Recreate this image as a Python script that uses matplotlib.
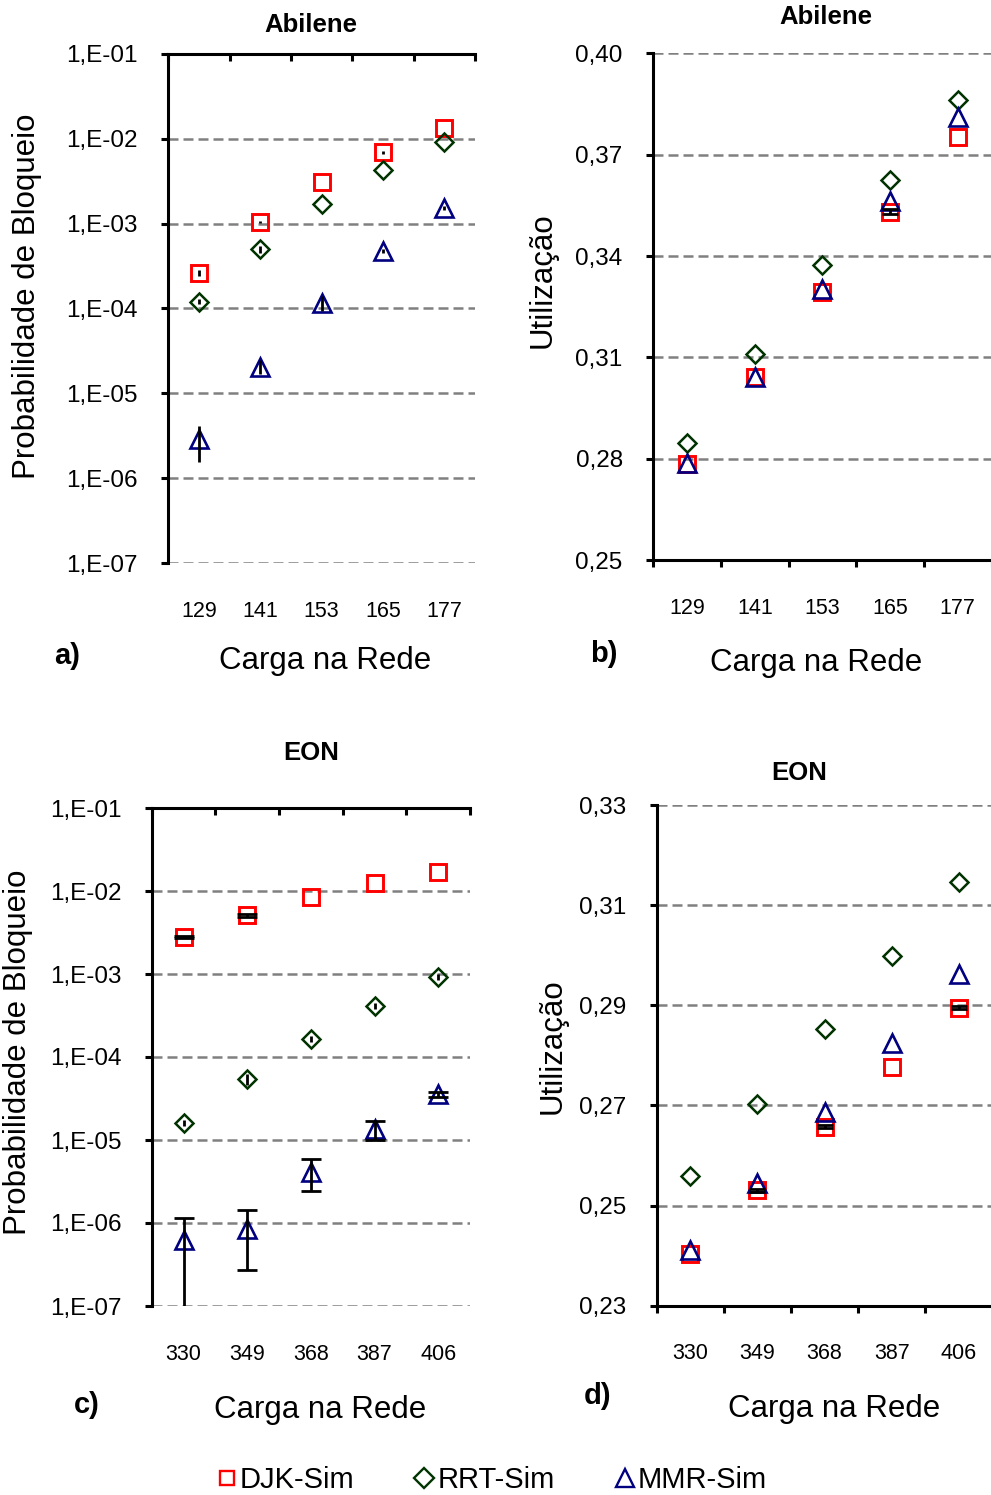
import matplotlib
matplotlib.use('Agg')
import matplotlib.pyplot as plt
from matplotlib.lines import Line2D
from matplotlib.ticker import NullLocator
import numpy as np

plt.rcParams['font.family'] = ['Liberation Sans', 'DejaVu Sans']

# ---------------- data ----------------
loads_abilene = ['129', '141', '153', '165', '177']
loads_eon = ['330', '349', '368', '387', '406']
series_names = ['DJK-Sim', 'RRT-Sim', 'MMR-Sim']

log_ticks = [1e-7, 1e-6, 1e-5, 1e-4, 1e-3, 1e-2, 1e-1]
log_tick_labels = ['1,E-07', '1,E-06', '1,E-05', '1,E-04', '1,E-03', '1,E-02', '1,E-01']
util_ticks_abilene = [0.25, 0.28, 0.31, 0.34, 0.37, 0.40]
util_labels_abilene = ['0,25', '0,28', '0,31', '0,34', '0,37', '0,40']
util_ticks_eon = [0.23, 0.25, 0.27, 0.29, 0.31, 0.33]
util_labels_eon = ['0,23', '0,25', '0,27', '0,29', '0,31', '0,33']

# a) Abilene - blocking probability
a_djk = [2.6e-4, 1.05e-3, 3.1e-3, 6.9e-3, 1.33e-2]
a_rrt = [1.2e-4, 5.0e-4, 1.69e-3, 4.3e-3, 9.1e-3]
a_mmr = [2.86e-6, 2.07e-5, 1.17e-4, 4.8e-4, 1.54e-3]
a_djk_err = [2.0e-5, 3.0e-5, 0, 2.7e-4, 0]
a_rrt_err = [8.0e-6, 5.0e-5, 0, 0, 0]
a_mmr_err = [1.3e-6, 4.0e-6, 2.3e-5, 2.4e-5, 8.0e-5]

# b) Abilene - utilization
b_djk = [0.2785, 0.3041, 0.3293, 0.3531, 0.3753]
b_rrt = [0.2847, 0.3111, 0.3374, 0.3626, 0.3862]
b_mmr = [0.2787, 0.3043, 0.3303, 0.3562, 0.3812]
b_djk_err = [0, 0, 0, 0.0008, 0]
b_rrt_err = [0, 0, 0, 0, 0]
b_mmr_err = [0, 0, 0, 0, 0]

# c) EON - blocking probability
c_djk = [2.77e-3, 5.1e-3, 8.5e-3, 1.24e-2, 1.7e-2]
c_rrt = [1.59e-5, 5.43e-5, 1.64e-4, 4.14e-4, 9.2e-4]
c_mmr = [6.17e-7, 8.5e-7, 4.13e-6, 1.35e-5, 3.55e-5]
c_djk_err = [8.0e-5, 2.0e-4, 0, 0, 0]
c_rrt_err = [1.3e-6, 8.0e-6, 1.3e-5, 3.3e-5, 7.4e-5]
c_mmr_err = [5.3e-7, 5.8e-7, 1.7e-6, 3.4e-6, 2.5e-6]

# d) EON - utilization
d_djk = [0.2403, 0.2531, 0.2657, 0.2776, 0.2895]
d_rrt = [0.2559, 0.2703, 0.2852, 0.2999, 0.3147]
d_mmr = [0.2411, 0.2546, 0.2687, 0.2825, 0.2963]
d_djk_err = [0, 0.0003, 0.0003, 0, 0.0003]
d_rrt_err = [0, 0, 0, 0, 0]
d_mmr_err = [0, 0, 0, 0, 0]

# ---------------- styling ----------------
W, H = 991, 1495
fig = plt.figure(figsize=(W / 100, H / 100), dpi=100)

colors = ['#FF0000', '#003300', '#000080']
markers = ['s', 'D', '^']
msizes = [12.0, 9.3, 13.5]
mews = [2.1, 1.8, 1.9]
GRID = dict(color='#808080', linestyle=(0, (4, 2)), linewidth=1.8)
SPINE_W = 2.2


def px_axes(left, top, right, bottom):
    return [left / W, 1 - bottom / H, (right - left) / W, (bottom - top) / H]


def fx(x):
    return x / W


def fy(y):
    return 1 - y / H


def draw_series(ax, ys, errs, caps):
    x = np.arange(len(ys[0]))
    for i, y in enumerate(ys):
        ax.plot(x, np.asarray(y, float), linestyle='none', marker=markers[i],
                ms=msizes[i], mfc='none', mec=colors[i], mew=mews[i], zorder=3)
    for i, (y, e) in enumerate(zip(ys, errs)):
        y = np.asarray(y, float)
        e = np.asarray(e, float)
        m = e > 0
        if m.any():
            ax.errorbar(x[m], y[m], yerr=e[m], fmt='none', ecolor='black',
                        elinewidth=2.0, capsize=caps[i], capthick=2.0, zorder=4)


def setup(ax, cats, log, yticks, ylabels, top_axis):
    n = len(cats)
    ax.set_xlim(-0.5, n - 0.5)
    if log:
        ax.set_yscale('log')
    ax.set_ylim(yticks[0], yticks[-1])
    ax.set_yticks(yticks, labels=ylabels)
    ax.yaxis.set_minor_locator(NullLocator())
    ax.set_axisbelow(True)
    ax.yaxis.grid(True, **GRID)
    for s in ax.spines.values():
        s.set_linewidth(SPINE_W)
        s.set_color('black')
    ax.spines['right'].set_visible(False)
    bounds = np.arange(n + 1) - 0.5
    ax.set_xticks(bounds)
    ax.set_xticks(np.arange(n), labels=cats, minor=True)
    ax.tick_params(axis='y', which='major', direction='out', length=5,
                   width=SPINE_W, labelsize=17.5, pad=17)
    if top_axis:
        ax.spines['bottom'].set_visible(False)
        ax.tick_params(axis='x', which='major', top=True, bottom=False,
                       direction='in', length=5, width=SPINE_W,
                       labeltop=False, labelbottom=False)
    else:
        ax.spines['top'].set_visible(False)
        ax.tick_params(axis='x', which='major', top=False, bottom=True,
                       direction='out', length=5, width=SPINE_W,
                       labeltop=False, labelbottom=False)
    ax.tick_params(axis='x', which='minor', top=False, bottom=True, length=0,
                   labelbottom=True, labelsize=15.5, pad=27)


# Panel a
ax_a = fig.add_axes(px_axes(168.3, 53.8, 475, 563.1))
setup(ax_a, loads_abilene, True, log_ticks, log_tick_labels, True)
draw_series(ax_a, [a_djk, a_rrt, a_mmr], [a_djk_err, a_rrt_err, a_mmr_err], [0, 0, 0])

# Panel b
ax_b = fig.add_axes(px_axes(653.3, 53.4, 991.5, 560.0))
setup(ax_b, loads_abilene, False, util_ticks_abilene, util_labels_abilene, False)
draw_series(ax_b, [b_djk, b_rrt, b_mmr], [b_djk_err, b_rrt_err, b_mmr_err], [6, 0, 6])

# Panel c
ax_c = fig.add_axes(px_axes(151.7, 808.0, 470, 1306.0))
setup(ax_c, loads_eon, True, log_ticks, log_tick_labels, True)
draw_series(ax_c, [c_djk, c_rrt, c_mmr], [c_djk_err, c_rrt_err, c_mmr_err], [7, 0, 7])

# Panel d
ax_d = fig.add_axes(px_axes(656.7, 805.2, 992.5, 1305.6))
setup(ax_d, loads_eon, False, util_ticks_eon, util_labels_eon, False)
draw_series(ax_d, [d_djk, d_rrt, d_mmr], [d_djk_err, d_rrt_err, d_mmr_err], [6, 0, 6])

# Titles, labels
TITLE = dict(fontsize=18.5, fontweight='bold', ha='center', va='center')
fig.text(fx(311), fy(25), 'Abilene', **TITLE)
fig.text(fx(826), fy(17), 'Abilene', **TITLE)
fig.text(fx(311), fy(753), 'EON', **TITLE)
fig.text(fx(799), fy(773), 'EON', **TITLE)

XL = dict(fontsize=22.5, ha='center', va='center')
fig.text(fx(325), fy(661), 'Carga na Rede', **XL)
fig.text(fx(816), fy(663), 'Carga na Rede', **XL)
fig.text(fx(320), fy(1410), 'Carga na Rede', **XL)
fig.text(fx(834), fy(1409), 'Carga na Rede', **XL)

YL = dict(fontsize=22.5, ha='center', va='center', rotation=90)
fig.text(fx(27), fy(296), 'Probabilidade de Bloqueio', **YL)
fig.text(fx(543), fy(280), 'Utilização', **YL)
fig.text(fx(18), fy(1052), 'Probabilidade de Bloqueio', **YL)
fig.text(fx(553), fy(1046), 'Utilização', **YL)

PL = dict(fontsize=21, fontweight='bold', ha='center', va='center')
fig.text(fx(67), fy(656), 'a)', **PL)
fig.text(fx(604), fy(654), 'b)', **PL)
fig.text(fx(87), fy(1405), 'c)', **PL)
fig.text(fx(598), fy(1396), 'd)', **PL)

# Legend
handles = [Line2D([], [], linestyle='none', marker=markers[i],
                  ms=[9.5, 10, 13.5][i], mfc='none', mec=colors[i], mew=1.7)
           for i in range(3)]
fig.legend(handles, series_names, loc='center', bbox_to_anchor=(fx(491), fy(1480)),
           ncol=3, frameon=False, fontsize=21, handlelength=0.8,
           handletextpad=0.05, columnspacing=2.0, borderpad=0)

fig.savefig('out.png', dpi=100)
